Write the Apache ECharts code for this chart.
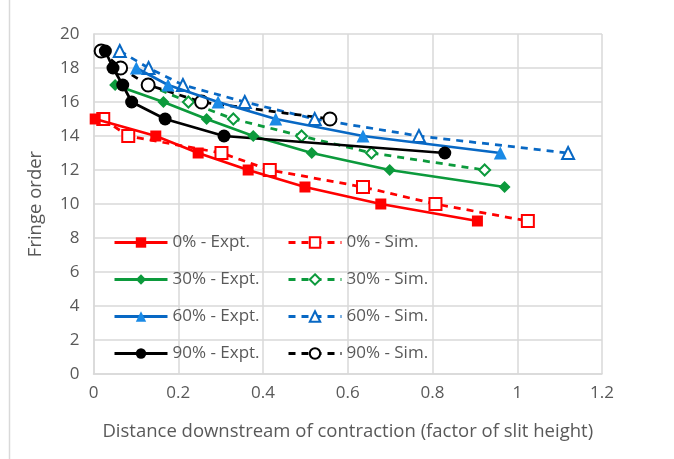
<!DOCTYPE html>
<html><head><meta charset="utf-8">
<script src="https://cdn.jsdelivr.net/npm/echarts@6/dist/echarts.min.js"></script>
<style>html,body{margin:0;padding:0;background:#fff}#c{width:674px;height:459px}</style>
</head><body><div id="c"></div>
<script>
const xTicks = [0, 0.2, 0.4, 0.6, 0.8, 1, 1.2];
const yTicks = [0, 2, 4, 6, 8, 10, 12, 14, 16, 18, 20];
const names = ['0% - Expt.', '0% - Sim.', '30% - Expt.', '30% - Sim.', '60% - Expt.', '60% - Sim.', '90% - Expt.', '90% - Sim.'];
const red_expt = [[0.004,15],[0.147,14],[0.247,13],[0.365,12],[0.499,11],[0.678,10],[0.906,9]];
const red_sim = [[0.023,15],[0.082,14],[0.302,13],[0.416,12],[0.636,11],[0.807,10],[1.025,9]];
const green_expt = [[0.051,17],[0.165,16],[0.267,15],[0.377,14],[0.515,13],[0.699,12],[0.970,11]];
const green_sim = [[0.129,17],[0.224,16],[0.330,15],[0.491,14],[0.656,13],[0.923,12]];
const blue_expt = [[0.101,18],[0.176,17],[0.294,16],[0.430,15],[0.636,14],[0.960,13]];
const blue_sim = [[0.062,19],[0.130,18],[0.211,17],[0.357,16],[0.522,15],[0.768,14],[1.120,13]];
const black_expt = [[0.028,19],[0.046,18],[0.069,17],[0.090,16],[0.169,15],[0.308,14],[0.829,13]];
const black_sim = [[0.018,19],[0.064,18],[0.129,17],[0.255,16],[0.558,15]];

const FONT = '"Open Sans", "Noto Sans", sans-serif';
function mk(name, data, color, markerColor, symbol, size, dashed) {
  return {
    name, type: 'line', data, symbol, symbolSize: size,
    lineStyle: { color, width: 2.75, type: dashed ? [7, 6] : 'solid' },
    itemStyle: dashed ? { color: '#ffffff', borderColor: color, borderWidth: 2 } : { color: markerColor, borderColor: markerColor, borderWidth: 0 },
    emphasis: { disabled: true }, animation: false, z: dashed ? 3 : 4
  };
}
const series = [
  mk(names[0], red_expt, '#ff0000', '#ff0000', 'rect', 11, false),
  mk(names[1], red_sim, '#ff0000', '#ff0000', 'rect', 12, true),
  mk(names[2], green_expt, '#0c9a3c', '#0c9a3c', 'diamond', 12, false),
  mk(names[3], green_sim, '#0c9a3c', '#0c9a3c', 'diamond', 11, true),
  mk(names[4], blue_expt, '#0868c4', '#1a8ae6', 'triangle', 13, false),
  mk(names[5], blue_sim, '#0868c4', '#0868c4', 'triangle', 12, true),
  mk(names[6], black_expt, '#000000', '#000000', 'circle', 13, false),
  mk(names[7], black_sim, '#000000', '#000000', 'circle', 13, true)
];
const legendCommon = {
  orient: 'vertical', top: 229, itemWidth: 53, itemHeight: 13, itemGap: 20,
  lineStyle: { width: 3 },
  textStyle: { fontFamily: FONT, fontSize: 17, color: '#595959', lineHeight: 16 },
  selectedMode: false
};
const chart = echarts.init(document.getElementById('c'), null, { renderer: 'canvas' });
chart.setOption({
  backgroundColor: '#ffffff',
  animation: false,
  grid: { left: 93.5, right: 72, top: 34, bottom: 85 },
  xAxis: {
    type: 'value', min: xTicks[0], max: xTicks[xTicks.length-1], interval: 0.2,
    name: 'Distance downstream of contraction (factor of slit height)',
    nameLocation: 'middle', nameGap: 48,
    nameTextStyle: { fontFamily: FONT, fontSize: 18.5, color: '#595959' },
    axisLine: { lineStyle: { color: '#d9d9d9', width: 1.5 } },
    axisTick: { show: false },
    axisLabel: { fontFamily: FONT, fontSize: 17, color: '#595959', margin: 11 },
    splitLine: { lineStyle: { color: '#d9d9d9', width: 1.5 } }
  },
  yAxis: {
    type: 'value', min: yTicks[0], max: yTicks[yTicks.length-1], interval: 2,
    name: 'Fringe order', nameLocation: 'middle', nameGap: 48,
    nameTextStyle: { fontFamily: FONT, fontSize: 18.5, color: '#595959' },
    axisLine: { show: true, lineStyle: { color: '#d9d9d9', width: 1.5 } },
    axisTick: { show: false },
    axisLabel: { fontFamily: FONT, fontSize: 17, color: '#595959', margin: 14 },
    splitLine: { lineStyle: { color: '#d9d9d9', width: 1.5 } }
  },
  legend: [
    Object.assign({}, legendCommon, { left: 108, data: [names[0], names[2], names[4], names[6]] }),
    Object.assign({}, legendCommon, { left: 282, data: [names[1], names[3], names[5], names[7]] })
  ],
  graphic: [{ type: 'line', shape: { x1: 9.5, y1: 0, x2: 9.5, y2: 459 }, style: { stroke: '#d9d9d9', lineWidth: 1.5 } }],
  series
});
</script></body></html>
